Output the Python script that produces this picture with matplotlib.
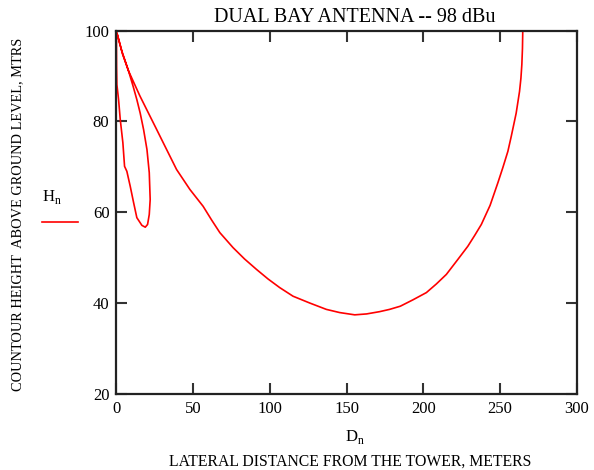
import matplotlib
matplotlib.use("Agg")
import matplotlib.pyplot as plt

plt.rcParams['font.family'] = ['Liberation Serif', 'DejaVu Serif']

# contour traced as one line: big lobe right->left, then the inner loop
dist = [264.8, 264.6, 264.2, 263.6, 262.7, 260.5, 257.3, 255.1, 251.8, 248.6,
        243.5, 237.8, 233.5, 229.0, 222.5, 215.0, 208.5, 202.0, 193.2,
        185.0, 178.0, 171.5, 163.0, 155.3, 145.5, 136.8, 126.0, 115.1, 106.4,
        98.8, 91.3, 83.5, 76.0, 67.4, 62.0, 56.5, 47.9, 39.2, 30.5,
        25.8, 21.8, 15.3, 7.9, 4.0, 0.3,
        3.5, 7.9, 10.9, 13.3, 15.5, 17.7, 19.9, 21.4, 22.0, 21.4,
        20.3, 18.8, 16.6, 13.3, 11.2, 9.0, 6.8, 5.3,
        4.2, 2.5, 1.4, 0.3, 0.1, 0.0]
height = [99.8, 96.0, 92.5, 89.5, 86.6, 81.8, 76.7, 73.4, 69.8, 66.5,
          61.5, 57.3, 54.9, 52.5, 49.6, 46.3, 44.2, 42.3, 40.7,
          39.3, 38.6, 38.1, 37.6, 37.4, 37.9, 38.6, 40.0, 41.5, 43.4,
          45.3, 47.4, 49.7, 52.2, 55.5, 58.3, 61.3, 65.0, 69.4, 75.3,
          78.5, 81.2, 85.6, 91.1, 94.8, 99.5,
          95.5, 91.1, 87.7, 84.8, 81.8, 78.2, 73.8, 68.7, 62.8, 59.5,
          57.3, 56.7, 57.1, 58.8, 62.1, 65.7, 69.0, 70.1,
          75.3, 80.4, 84.8, 88.1, 92.0, 98.0]

xticks = [0, 50, 100, 150, 200, 250, 300]
yticks = [20, 40, 60, 80, 100]

fig = plt.figure(figsize=(5.94, 4.70), dpi=100)
ax = fig.add_axes([0.196, 0.162, 0.775, 0.773])

ax.plot(dist, height, color='red', lw=1.2)

ax.set_xlim(0, 300)
ax.set_ylim(20, 100)
ax.set_xticks(xticks)
ax.set_yticks(yticks)
ax.tick_params(direction='in', length=8, width=1.5, color='#333333',
               top=True, right=True, labelsize=12, pad=5)
for s in ax.spines.values():
    s.set_linewidth(1.6)
    s.set_color('#222222')

fig.text(0.598, 0.963, 'DUAL BAY ANTENNA -- 98 dBu', ha='center', va='center', fontsize=14.5)
fig.text(0.598, 0.07, r'D$_{\mathregular{n}}$', ha='center', va='center', fontsize=12)
fig.text(0.589, 0.017, 'LATERAL DISTANCE FROM THE TOWER, METERS',
         ha='center', va='center', fontsize=11.3)
fig.text(0.03, 0.543, 'COUNTOUR HEIGHT  ABOVE GROUND LEVEL, MTRS',
         ha='center', va='center', rotation=90, fontsize=10.4)

# legend entry like Mathcad
fig.text(0.088, 0.58, r'H$_{\mathregular{n}}$', ha='center', va='center', fontsize=12)
fig.add_artist(plt.Line2D([0.07, 0.132], [0.528, 0.528], color='red', lw=1.2,
                          transform=fig.transFigure))

fig.savefig('out.png', dpi=100)
